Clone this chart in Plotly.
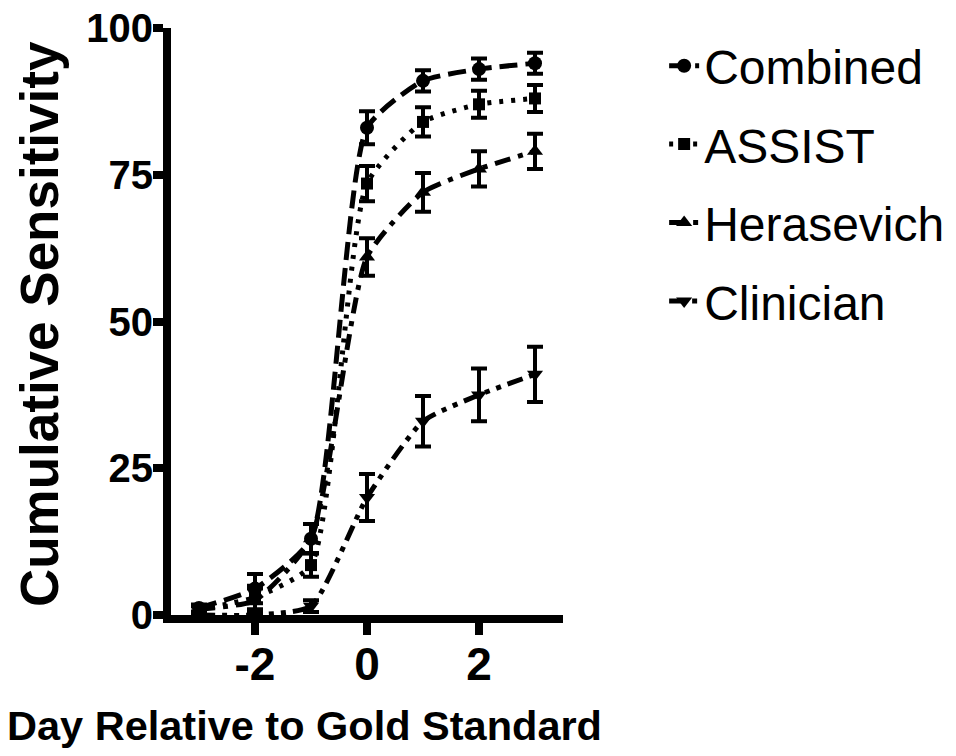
import plotly.graph_objects as go

days = [-3, -2, -1, 0, 1, 2, 3]

combined = [1.2, 4.5, 13, 83, 91, 93, 94]
combined_err = [0.6, 2.5, 2.5, 2.8, 1.8, 1.8, 1.8]

assist = [1.0, 3.0, 8.5, 73.5, 84, 87, 88]
assist_err = [0.5, 2.0, 2.0, 3.0, 2.5, 2.3, 2.3]

herasevich = [1.0, 2.5, 13, 61, 72, 76, 79]
herasevich_err = [0.5, 2.0, 2.5, 3.2, 3.3, 3.0, 3.0]

clinician = [0.0, 0.0, 1.5, 20, 33, 37.5, 41]
clinician_err = [0.0, 0.0, 1.0, 4.0, 4.3, 4.5, 4.7]

series = [
    ("Combined", combined, combined_err, "circle", 14, "18px,8px"),
    ("ASSIST", assist, assist_err, "square", 12, "4px,8px"),
    ("Herasevich", herasevich, herasevich_err, "triangle-up", 14, "16px,8px,5px,8px"),
    ("Clinician", clinician, clinician_err, "triangle-down", 14, "16px,7px,5px,7px,5px,7px"),
]

fig = go.Figure()
for name, vals, errs, sym, size, dash in series:
    fig.add_trace(go.Scatter(
        x=days, y=vals, name=name, legendgroup=name,
        mode="lines+markers",
        line=dict(color="black", width=5, dash=dash, shape="spline", smoothing=0.55),
        marker=dict(symbol=sym, size=size, color="black"),
        error_y=dict(type="data", array=errs, visible=True, color="black", thickness=4, width=8),
        cliponaxis=False,
    ))

fig.update_layout(
    width=956, height=756,
    margin=dict(l=171, r=393, t=28, b=141, autoexpand=False),
    plot_bgcolor="white", paper_bgcolor="white",
    font=dict(family="Liberation Sans, Arial, sans-serif", color="black"),
    showlegend=True,
    legend=dict(x=1.258, xanchor="left", y=1.0, yanchor="top",
                font=dict(size=48, family="Liberation Sans, Arial, sans-serif", color="black"),
                tracegroupgap=13, itemwidth=30, bgcolor="rgba(0,0,0,0)"),
    xaxis=dict(range=[-3.5, 3.5], tickvals=[-2, 0, 2], ticktext=["-2", "0", "2"],
               showline=True, linewidth=8, linecolor="black", ticks="outside",
               ticklen=12, tickwidth=8, tickcolor="black", showgrid=False, zeroline=False,
               automargin=False, ticklabelstandoff=-10,
               tickfont=dict(size=46, weight="bold", color="black")),
    yaxis=dict(range=[0, 100], tickvals=[0, 25, 50, 75, 100],
               showline=True, linewidth=8, linecolor="black", ticks="outside",
               ticklen=10, tickwidth=8, tickcolor="black", showgrid=False, zeroline=False,
               automargin=False, ticklabelstandoff=-8,
               tickfont=dict(size=40, weight="bold", color="black")),
    annotations=[
        dict(text="<b>Cumulative Sensitivity</b>", xref="paper", yref="paper",
             x=-0.335, y=0.495, textangle=-90, showarrow=False,
             font=dict(size=53, color="black"), xanchor="center", yanchor="middle"),
        dict(text="<b>Day Relative to Gold Standard</b>", xref="paper", yref="paper",
             x=0.34, y=-0.188, showarrow=False,
             font=dict(size=41.5, color="black"), xanchor="center", yanchor="middle"),
    ],
)

fig.write_html("out.html", config={"displayModeBar": False},
               post_script="document.body.style.margin='0';document.body.style.padding='0';")
